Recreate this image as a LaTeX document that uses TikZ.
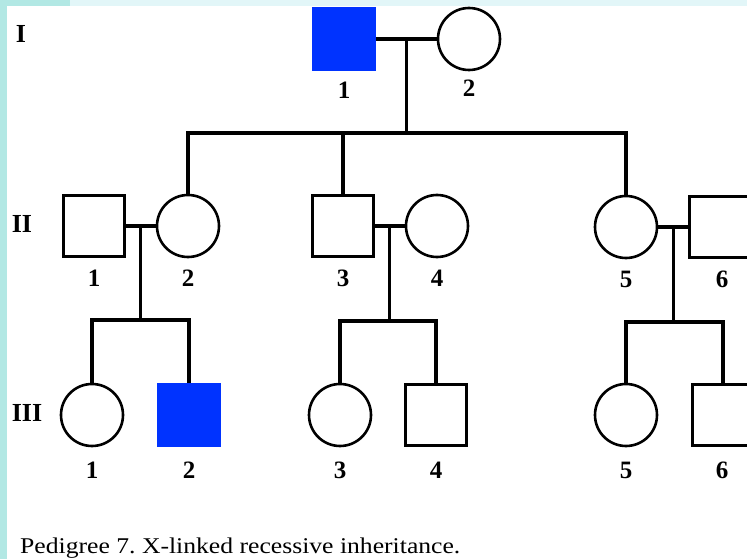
\documentclass[tikz,border=0pt]{standalone}
\usepackage{fontspec}
\setmainfont{Liberation Serif}
\usetikzlibrary{calc}
\definecolor{affected}{RGB}{0,51,255}
\definecolor{leftstrip}{RGB}{178,232,228}
\definecolor{topstrip}{RGB}{226,246,248}
\frenchspacing
\begin{document}
\begin{tikzpicture}[x=1pt,y=-1pt,
  male/.style={draw=black,line width=3pt,fill=white,rectangle,minimum width=61pt,minimum height=61pt,inner sep=0pt},
  female/.style={draw=black,line width=2.6pt,fill=white,circle,minimum size=62pt,inner sep=0pt},
  affmale/.style={fill=affected,rectangle,minimum width=64pt,minimum height=64pt,inner sep=0pt},
  link/.style={line width=3.1pt},
  num/.style={font=\bfseries\fontsize{25}{25}\selectfont,inner sep=0pt},
  gen/.style={font=\bfseries\fontsize{26}{26}\selectfont,inner sep=0pt}]
\useasboundingbox (0,0) rectangle (747,559);
\clip (0,0) rectangle (747,559);
\fill[white] (0,0) rectangle (747,559);
\fill[topstrip] (0,0) rectangle (747,6);
\fill[leftstrip] (0,0) rectangle (70,6);
\fill[leftstrip] (0,0) rectangle (7,559);

% generation labels
\node[gen] (gI) at (21,34) {I};
\node[gen] (gII) at (22,224) {II};
\node[gen] (gIII) at (27,413) {III};

% generation I
\node[affmale] (I1) at (344,39) {};
\node[female] (I2) at (469,39) {};
\node[num] (nI1) at (344,90) {1};
\node[num] (nI2) at (469,88) {2};

% generation II
\node[male] (II1) at (94,226) {};
\node[female] (II2) at (188,226) {};
\node[male] (II3) at (343,226) {};
\node[female] (II4) at (437,226) {};
\node[female] (II5) at (626,227) {};
\node[male] (II6) at (720,227) {};
\node[num] (nII1) at (94,278) {1};
\node[num] (nII2) at (188,278) {2};
\node[num] (nII3) at (343,278) {3};
\node[num] (nII4) at (437,278) {4};
\node[num] (nII5) at (626,279) {5};
\node[num] (nII6) at (722,279) {6};

% generation III
\node[female] (III1) at (92,415) {};
\node[affmale] (III2) at (189,415) {};
\node[female] (III3) at (340,415) {};
\node[male] (III4) at (436,415) {};
\node[female] (III5) at (626,415) {};
\node[male] (III6) at (723,415) {};
\node[num] (nIII1) at (92,470) {1};
\node[num] (nIII2) at (189,470) {2};
\node[num] (nIII3) at (340,470) {3};
\node[num] (nIII4) at (436,470) {4};
\node[num] (nIII5) at (626,470) {5};
\node[num] (nIII6) at (722,470) {6};

% couple I
\draw[link] (I1.east) -- (I2.west);
\coordinate (m1) at ($(I1.east)!0.5!(I2.west)$);
\coordinate (s1) at (407,133);
\draw[link] (m1) -- (m1 |- s1);
\draw[link] (II2.north) -- (II2.north |- s1) -- (II5.north |- s1) -- (II5.north);
\draw[link] (II3.north) -- (II3.north |- s1);

% couple II-1 x II-2
\draw[link] (II1.east) -- (II2.west);
\coordinate (m2) at ($(II1.east)!0.5!(II2.west)$);
\coordinate (s2) at (140,320);
\draw[link] (m2) -- (m2 |- s2);
\draw[link] (III1.north) -- (III1.north |- s2) -- (III2.north |- s2) -- (III2.north);

% couple II-3 x II-4
\draw[link] (II3.east) -- (II4.west);
\coordinate (m3) at ($(II3.east)!0.5!(II4.west)$);
\coordinate (s3) at (392,321);
\draw[link] (m3) -- (m3 |- s3);
\draw[link] (III3.north) -- (III3.north |- s3) -- (III4.north |- s3) -- (III4.north);

% couple II-5 x II-6
\draw[link] (II5.east) -- (II6.west);
\coordinate (m4) at ($(II5.east)!0.5!(II6.west)$);
\coordinate (s4) at (673,322);
\draw[link] (m4) -- (m4 |- s4);
\draw[link] (III5.north) -- (III5.north |- s4) -- (III6.north |- s4) -- (III6.north);

% caption
\node[anchor=base west,font=\fontsize{22.5}{22.5}\selectfont,inner sep=0pt] (cap) at (20,553) {\scalebox{1.14}[1]{Pedigree 7. X-linked recessive inheritance.}};
\end{tikzpicture}
\end{document}
